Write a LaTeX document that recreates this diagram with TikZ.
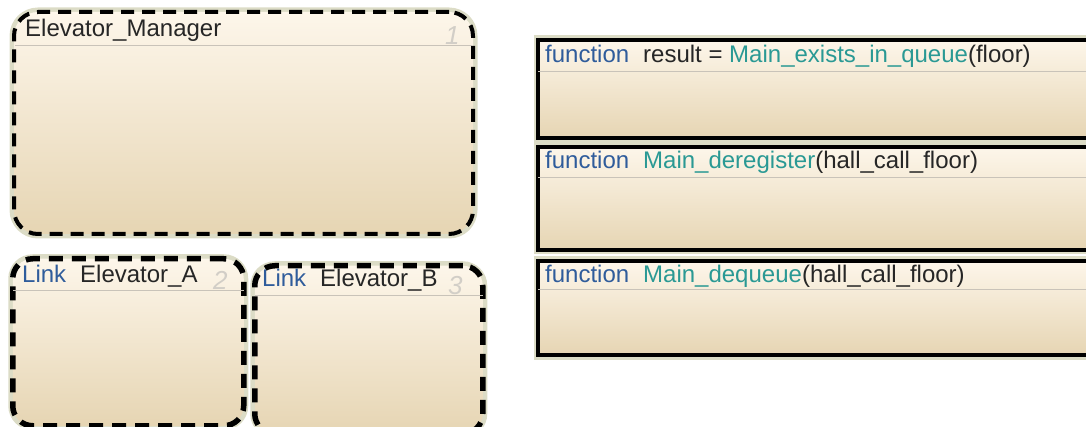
\documentclass[tikz,border=0pt]{standalone}
\usepackage{fontspec}
\setmainfont{Liberation Sans}
\definecolor{topfill}{HTML}{FDF6EA}
\definecolor{botfill}{HTML}{E6D5B3}
\definecolor{keyblue}{HTML}{2F5C9B}
\definecolor{funteal}{HTML}{2A9994}
\definecolor{glowcol}{HTML}{DCDCC6}
\definecolor{headcol}{HTML}{C9C3B9}
\definecolor{numcol}{HTML}{D2CEC7}
\definecolor{textcol}{HTML}{262626}

\begin{document}
\begin{tikzpicture}[x=1pt, y=-1pt,
    statebox/.style={draw=black, line width=4pt, dash pattern=on 13pt off 8pt,
        rounded corners=24pt, top color=topfill, bottom color=botfill,
        preaction={draw=glowcol, line width=9pt, solid},
        anchor=north west, inner sep=0},
    linkbox/.style={statebox, line width=5.5pt, dash pattern=on 14pt off 9pt, rounded corners=20pt},
    funbox/.style={draw=black, line width=4pt, top color=topfill, bottom color=botfill,
        preaction={draw=glowcol, line width=9pt},
        anchor=north west, inner sep=0},
    headsep/.style={draw=headcol, line width=1pt},
    title/.style={anchor=base west, inner sep=0, font=\fontsize{24}{28}\selectfont, text=textcol},
    keyword/.style={title, text=keyblue},
    statenum/.style={anchor=base west, inner sep=0, font=\fontsize{26}{30}\selectfont\itshape, text=numcol}
]
    \path[use as bounding box, clip] (0,0) rectangle (1086,427);

    % States
    \node[statebox, minimum width=459pt, minimum height=222pt] (manager) at (12,10) {};
    \node[linkbox, minimum width=231pt, minimum height=167pt] (elevA) at (10,256) {};
    \node[linkbox, minimum width=228pt, minimum height=168pt] (elevB) at (252,263) {};

    % Graphical functions
    \node[funbox, minimum width=580pt, minimum height=98pt] (existsfun) at (536,38) {};
    \node[funbox, minimum width=580pt, minimum height=103pt] (deregfun) at (536,145) {};
    \node[funbox, minimum width=580pt, minimum height=94pt] (dequeuefun) at (536,259) {};

    % Header lines
    \draw[headsep] ([xshift=3pt]manager.west |- 0,46) -- ([xshift=-3pt]manager.east |- 0,46);
    \draw[headsep] ([xshift=3pt]elevA.west |- 0,291) -- ([xshift=-3pt]elevA.east |- 0,291);
    \draw[headsep] ([xshift=3pt]elevB.west |- 0,296) -- ([xshift=-3pt]elevB.east |- 0,296);
    \draw[headsep] ([xshift=2pt]existsfun.west |- 0,72) -- (existsfun.east |- 0,72);
    \draw[headsep] ([xshift=2pt]deregfun.west |- 0,178) -- (deregfun.east |- 0,178);
    \draw[headsep] ([xshift=2pt]dequeuefun.west |- 0,290) -- (dequeuefun.east |- 0,290);

    % State labels
    \node[title] (managerlabel) at (25,37) {Elevator\_Manager};
    \node[keyword] (linkA) at (22,283) {Link};
    \node[title] (elevAlabel) at (80,283) {Elevator\_A};
    \node[keyword] (linkB) at (262,287) {Link};
    \node[title] (elevBlabel) at (320,287) {Elevator\_B};
    \node[statenum] (numone) at (445,45) {1};
    \node[statenum] (numtwo) at (213,290) {2};
    \node[statenum] (numthree) at (448,295) {3};

    % Function labels
    \node[keyword] (funkeyone) at (545,63) {function};
    \node[title] (existslabel) at (643,63) {result = \textcolor{funteal}{Main\_exists\_in\_queue}(floor)};
    \node[keyword] (funkeytwo) at (545,169) {function};
    \node[title] (dereglabel) at (643,169) {\textcolor{funteal}{Main\_deregister}(hall\_call\_floor)};
    \node[keyword] (funkeythree) at (545,283) {function};
    \node[title] (dequeuelabel) at (643,283) {\textcolor{funteal}{Main\_dequeue}(hall\_call\_floor)};
\end{tikzpicture}
\end{document}
